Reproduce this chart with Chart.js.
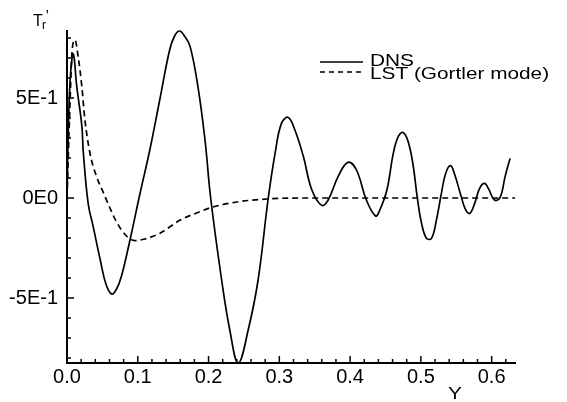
<!DOCTYPE html>
<html>
<head>
<meta charset="utf-8">
<script src="https://cdn.jsdelivr.net/npm/chart.js@4.4.1/dist/chart.umd.min.js"></script>
<style>
  html, body { margin: 0; padding: 0; background: #fff; }
  #wrap { width: 567px; height: 402px; }
</style>
</head>
<body>
<div id="wrap"><canvas id="chart"></canvas></div>
<script>
// DNS profile of T_r' against Y
const dnsX = [0.000, 0.002, 0.005, 0.009, 0.0137, 0.021, 0.023, 0.030, 0.037, 0.047, 0.055, 0.063, 0.070, 0.077,
  0.089, 0.103, 0.117, 0.131, 0.145, 0.152, 0.159, 0.166, 0.174, 0.185, 0.195, 0.203, 0.2185, 0.230, 0.242,
  0.256, 0.270, 0.284, 0.294, 0.303, 0.3126, 0.322, 0.334, 0.346, 0.360, 0.369, 0.383, 0.397, 0.409, 0.423,
  0.436, 0.442, 0.452, 0.461, 0.468, 0.475, 0.482, 0.489, 0.495, 0.501, 0.508, 0.515, 0.522, 0.529, 0.535,
  0.542, 0.548, 0.557, 0.563, 0.569, 0.576, 0.583, 0.590, 0.596, 0.604, 0.612, 0.619, 0.626];
const dnsT = [0.00, 0.36, 0.62, 0.72, 0.56, 0.36, 0.23, -0.03, -0.143, -0.31, -0.43, -0.48, -0.455, -0.39,
  -0.21, 0.02, 0.24, 0.49, 0.74, 0.81, 0.835, 0.81, 0.757, 0.557, 0.29, 0.00, -0.41, -0.66, -0.825,
  -0.66, -0.41, -0.01, 0.223, 0.373, 0.403, 0.34, 0.207, 0.04, -0.037, -0.01, 0.107, 0.178, 0.14, -0.01,
  -0.09, -0.06, 0.04, 0.223, 0.307, 0.328, 0.282, 0.165, 0.00, -0.127, -0.202, -0.202, -0.11, 0.023, 0.123,
  0.162, 0.115, 0.007, -0.057, -0.077, -0.027, 0.048, 0.073, 0.043, -0.01, 0.003, 0.107, 0.198];

// LST (Gortler mode)
const lstX = [0.000, 0.004, 0.0075, 0.0113, 0.016, 0.021, 0.025, 0.0325, 0.042, 0.051, 0.060, 0.070, 0.084,
  0.096, 0.110, 0.131, 0.160, 0.183, 0.204, 0.240, 0.282, 0.330, 0.400, 0.500, 0.633];
const lstT = [0.00, 0.45, 0.748, 0.79, 0.70, 0.557, 0.40, 0.223, 0.105, 0.03, -0.045, -0.12, -0.19,
  -0.213, -0.205, -0.177, -0.11, -0.075, -0.047, -0.02, -0.005, 0.00, 0.00, 0.00, 0.00];

const xTickValues = [0, 0.1, 0.2, 0.3, 0.4, 0.5, 0.6];
const xTickLabels = ['0.0', '0.1', '0.2', '0.3', '0.4', '0.5', '0.6'];
const xMinorTicks = [0.02, 0.04, 0.06, 0.08, 0.12, 0.14, 0.16, 0.18, 0.22, 0.24, 0.26, 0.28, 0.32, 0.34,
  0.36, 0.38, 0.42, 0.44, 0.46, 0.48, 0.52, 0.54, 0.56, 0.58, 0.62];
const yTickValues = [-0.5, 0, 0.5];
const yTickLabels = ['-5E-1', '0E0', '5E-1'];
const yMinorTicks = [-0.8, -0.7, -0.6, -0.4, -0.3, -0.2, -0.1, 0.1, 0.2, 0.3, 0.4, 0.6, 0.7, 0.8];

const FONT = '"Liberation Sans", Arial, sans-serif';
Chart.defaults.font.family = FONT;
Chart.defaults.color = '#000';

// inward tick marks, legend and axis titles
const decorations = {
  id: 'decorations',
  afterDraw(chart) {
    const { ctx, chartArea: area, scales: { x, y } } = chart;
    ctx.save();
    ctx.strokeStyle = '#000';
    ctx.lineWidth = 1.5;
    const tick = (x1, y1, x2, y2) => {
      ctx.beginPath(); ctx.moveTo(x1, y1); ctx.lineTo(x2, y2); ctx.stroke();
    };
    xMinorTicks.forEach(v => { const p = x.getPixelForValue(v); tick(p, area.bottom, p, area.bottom - 4); });
    xTickValues.forEach(v => { const p = x.getPixelForValue(v); tick(p, area.bottom, p, area.bottom - 7); });
    yMinorTicks.forEach(v => { const p = y.getPixelForValue(v); tick(area.left, p, area.left + 4, p); });
    yTickValues.forEach(v => { const p = y.getPixelForValue(v); tick(area.left, p, area.left + 7, p); });

    // legend
    const rows = [{ line: 62, text: 65.5 }, { line: 72, text: 78.5 }];
    chart.data.datasets.forEach((ds, i) => {
      ctx.lineWidth = ds.borderWidth;
      ctx.setLineDash(ds.borderDash ? [5, 4] : []);
      tick(320, rows[i].line, 363, rows[i].line);
      ctx.setLineDash([]);
      ctx.save();
      ctx.translate(370, rows[i].text);
      ctx.scale(1.26, 1);
      ctx.font = '16.5px ' + FONT;
      ctx.fillStyle = '#000';
      ctx.textBaseline = 'alphabetic';
      ctx.fillText(ds.label, 0, 0);
      ctx.restore();
    });

    // axis titles
    ctx.fillStyle = '#000';
    ctx.textBaseline = 'alphabetic';
    ctx.font = '16px ' + FONT;
    ctx.fillText('T', 33, 25.5);
    ctx.font = '12px ' + FONT;
    ctx.fillText('r', 42, 28.5);
    ctx.font = '16px ' + FONT;
    ctx.fillText('\u2019', 45.5, 22);
    ctx.save();
    ctx.translate(448, 399);
    ctx.scale(1.3, 1);
    ctx.fillText('Y', 0, 0);
    ctx.restore();
    ctx.restore();
  }
};

const toPoints = (xs, ys) => xs.map((v, i) => ({ x: v, y: ys[i] }));

new Chart(document.getElementById('chart'), {
  type: 'line',
  data: {
    datasets: [
      {
        label: 'DNS',
        data: toPoints(dnsX, dnsT),
        borderColor: '#000',
        borderWidth: 1.7,
        pointRadius: 0,
        fill: false,
        tension: 0.4,
        clip: 4
      },
      {
        label: 'LST (Gortler mode)',
        data: toPoints(lstX, lstT),
        borderColor: '#000',
        borderWidth: 1.7,
        borderDash: [6, 4],
        pointRadius: 0,
        fill: false,
        cubicInterpolationMode: 'monotone',
        clip: 4
      }
    ]
  },
  options: {
    responsive: true,
    maintainAspectRatio: false,
    animation: false,
    layout: { padding: { top: 31, right: 52, left: 0, bottom: 0 } },
    plugins: {
      legend: { display: false },
      tooltip: { enabled: false }
    },
    scales: {
      x: {
        type: 'linear',
        min: 0,
        max: 0.633,
        grid: { display: false, drawTicks: false },
        border: { color: '#000', width: 2 },
        ticks: {
          font: { size: 20 },
          color: '#000',
          padding: 2,
          maxRotation: 0,
          autoSkip: false,
          callback: (value, index) => xTickLabels[index]
        },
        afterBuildTicks: s => { s.ticks = xTickValues.map(v => ({ value: v })); },
        afterFit: s => { s.height = 39; }
      },
      y: {
        type: 'linear',
        min: -0.825,
        max: 0.835,
        grid: { display: false, drawTicks: false },
        border: { color: '#000', width: 2 },
        ticks: {
          font: { size: 20 },
          color: '#000',
          padding: 9,
          autoSkip: false,
          callback: (value, index) => yTickLabels[index]
        },
        afterBuildTicks: s => { s.ticks = yTickValues.map(v => ({ value: v })); },
        afterFit: s => { s.width = 67; }
      }
    }
  },
  plugins: [decorations]
});
</script>
</body>
</html>
